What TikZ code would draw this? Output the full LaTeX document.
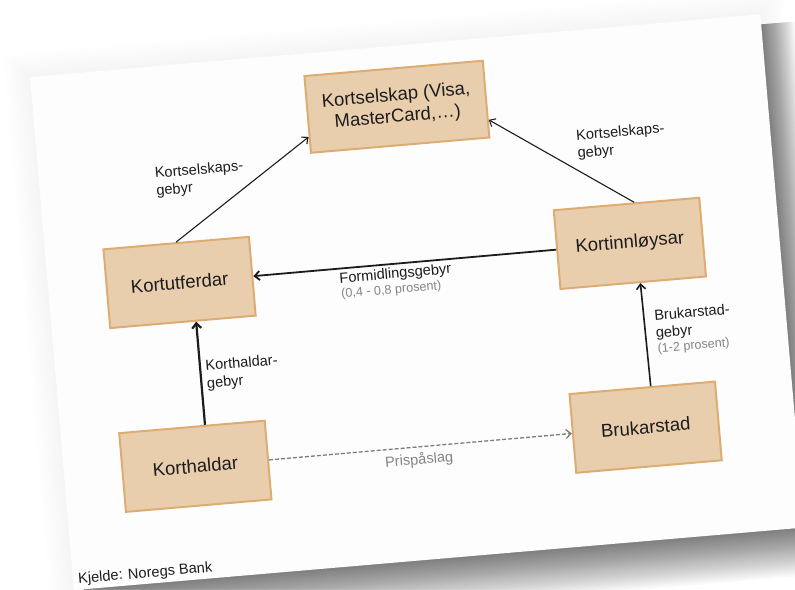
\documentclass[tikz,border=0pt]{standalone}
\usepackage{fontspec}
\setmainfont{Liberation Sans}
\usetikzlibrary{arrows.meta}

\definecolor{kassefyll}{RGB}{233,206,174}
\definecolor{kassekant}{RGB}{221,172,114}
\definecolor{tekst}{RGB}{28,28,28}
\definecolor{graatekst}{RGB}{132,132,132}
\definecolor{strek}{RGB}{125,125,125}
\definecolor{ark}{RGB}{253,253,253}

\newcommand{\boksfont}{\fontsize{18.5}{21.5}\selectfont}
\newcommand{\merkfont}{\fontsize{14.6}{17.5}\selectfont}
\newcommand{\graafont}{\fontsize{12.6}{14}\selectfont}

\begin{document}
\begin{tikzpicture}[x=1pt,y=1pt,
    kasse/.style={draw=kassekant, fill=kassefyll, line width=2pt,
        minimum width=146pt, minimum height=79pt, inner sep=2pt,
        align=center, text=tekst, font=\boksfont},
    pil/.style={-{Straight Barb[length=5pt,width=9pt]}, line width=#1, draw=tekst},
    pil/.default=1.1pt,
    merk/.style={font=\merkfont, align=left, anchor=west, inner sep=0pt, text=tekst},
    graa/.style={font=\graafont, anchor=west, inner sep=0pt, text=graatekst}]
    \useasboundingbox (0,0) rectangle (795,-589);
    \fill[white] (0,0) rectangle (795,-589);

    \begin{scope}[shift={(30,-77)}, rotate=4.9, transform shape]
    % skugge og ark
    \foreach \i in {1,...,10}
        \fill[black, opacity=0.005] ({-2.5*\i},{2.5*\i}) rectangle ({733+2.5*\i},{-515-2.5*\i});
    \foreach \i in {1,...,24}
        \fill[black, opacity=0.025] (10,-10) rectangle ({733+1.4*\i},{-515-2*\i});
    \fill[ark] (0,0) rectangle (733,-515);

    % kassar
    \node[kasse, minimum width=179pt, minimum height=77pt] (selskap) at (363,-61) {Kortselskap (Visa,\\MasterCard,…)};
    \node[kasse] (utferdar)  at (131.5,-217.5) {Kortutferdar};
    \node[kasse] (innloysar) at (583.5,-217)   {Kortinnløysar};
    \node[kasse] (haldar)    at (131.5,-402)   {Korthaldar};
    \node[kasse] (stad)      at (583.5,-401.5) {Brukarstad};

    % piler
    \draw[pil] (utferdar.north) -- (selskap.194);
    \draw[pil] (innloysar.79) -- (selskap.-13.5);
    \draw[pil=1.8pt] (innloysar.west) -- (utferdar.east);
    \draw[pil=2.2pt] (haldar.72) -- (utferdar.288);
    \draw[pil=1.6pt] (stad.78) -- (innloysar.280);
    \draw[pil=1.3pt, draw=strek, dash pattern=on 4pt off 2pt] (haldar.east) -- (stad.west);

    % merkelappar
    \node[merk] (gebyrV) at (116,-116.3) {Kortselskaps-\\gebyr};
    \node[merk] (gebyrH) at (539,-114.8) {Kortselskaps-\\gebyr};
    \node[merk] (formidling) at (291,-228) {Formidlingsgebyr};
    \node[graa] (formidlingpst) at (291.5,-243.5) {(0,4 - 0,8 prosent)};
    \node[merk] (haldargebyr) at (150,-312.7) {Korthaldar-\\gebyr};
    \node[merk] (stadgebyr) at (601.5,-301) {Brukarstad-\\gebyr};
    \node[graa] (stadpst) at (602,-325) {(1-2 prosent)};
    \node[graa, anchor=center, font=\merkfont] (paaslag) at (355,-414.8) {Prispåslag};
    \node[merk] (kjelde) at (5,-505) {Kjelde: Noregs Bank};
    \end{scope}
\end{tikzpicture}
\end{document}
